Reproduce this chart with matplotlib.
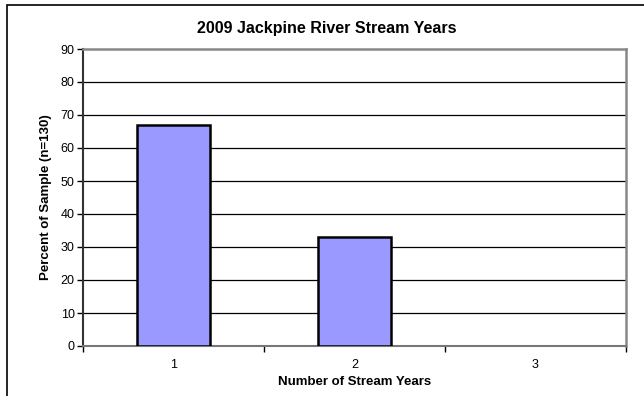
import matplotlib.pyplot as plt
from matplotlib.patches import Rectangle

plt.rcParams['font.family'] = ['Liberation Sans', 'DejaVu Sans']

stream_years = ['1', '2', '3']
percent_sample = [66.9, 33.1, 0]
y_ticks = list(range(0, 91, 10))

fig = plt.figure(figsize=(6.44, 3.96), dpi=100)
ax = fig.add_axes([83/644, 1 - 346/396, (626 - 83)/644, (346 - 49)/396])

# outer chart border (only left and top show)
fig.add_artist(Rectangle((7/644, -0.1), 1.2, 1 - 5/396 + 0.1, transform=fig.transFigure,
                         fill=False, edgecolor='black', linewidth=1.2))

x = list(range(len(stream_years)))
edges = ['black' if v > 0 else 'none' for v in percent_sample]
ax.bar(x, percent_sample, width=0.4, color='#9999ff', edgecolor=edges, linewidth=1.8, zorder=3)

ax.set_xlim(-0.5, 2.5)
ax.set_ylim(0, 90)
ax.set_yticks(y_ticks)
ax.set_xticks(x)
ax.set_xticklabels(stream_years)
ax.set_xticks([-0.5, 0.5, 1.5, 2.5], minor=True)
ax.tick_params(axis='x', which='major', length=0, pad=9, labelsize=9)
ax.tick_params(axis='x', which='minor', length=4, width=1, color='black')
ax.tick_params(axis='y', length=4, width=1, pad=2, labelsize=9)

for v in y_ticks[1:-1]:
    ax.axhline(v, color='black', linewidth=0.9, zorder=1)

ax.spines['left'].set_color('#333333')
ax.spines['left'].set_linewidth(1.5)
ax.spines['bottom'].set_color('#777777')
ax.spines['bottom'].set_linewidth(1.5)
ax.spines['top'].set_color('#888888')
ax.spines['top'].set_linewidth(1.8)
ax.spines['right'].set_color('#888888')
ax.spines['right'].set_linewidth(1.8)

# title is centred on the whole chart box, not on the plot area
fig.text(327/644, 1 - 29/396, '2009 Jackpine River Stream Years', fontsize=11.5,
         fontweight='bold', ha='center', va='center')
ax.set_xlabel('Number of Stream Years', fontsize=9.5, fontweight='bold', labelpad=4)
ax.set_ylabel('Percent of Sample (n=130)', fontsize=9.5, fontweight='bold', labelpad=6)

fig.savefig('out.png', dpi=100)
